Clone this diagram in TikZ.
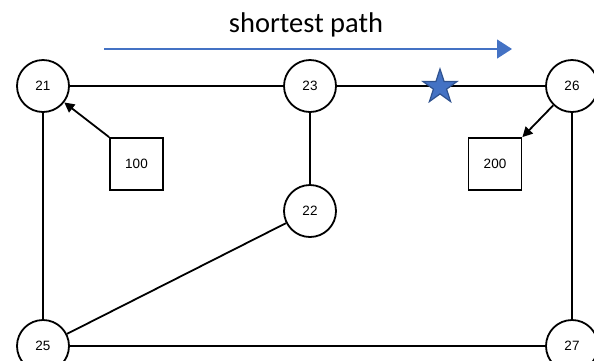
\documentclass[tikz,border=0pt]{standalone}
\usepackage{fontspec}
\setmainfont{Liberation Sans}
\newfontfamily\calib{Carlito}
\usetikzlibrary{shapes.geometric,arrows.meta}
\definecolor{pathblue}{HTML}{4472C4}
\definecolor{stardark}{HTML}{2F528F}
\begin{document}
\begin{tikzpicture}[x=1pt,y=-1pt,
  vnode/.style={circle,draw,line width=1.8pt,minimum size=52pt,inner sep=0pt,font=\fontsize{13.5}{15}\selectfont},
  bnode/.style={rectangle,draw,line width=1.8pt,minimum width=53pt,minimum height=52pt,inner sep=0pt,font=\fontsize{13.5}{15}\selectfont},
  edge/.style={line width=1.8pt},
  parr/.style={line width=1.8pt,-{Triangle[length=10pt,width=10pt]}}]
\clip (0,0) rectangle (594,360);
\useasboundingbox (0,0) rectangle (594,360);
\node[font=\calib\fontsize{28.5}{32}\selectfont] (title) at (306,25) {shortest path};
\coordinate (pa) at (104,49);
\coordinate (pb) at (512,49);
\draw[pathblue,line width=1.3pt,-{Triangle[length=15pt,width=19pt]}] (pa) -- (pb);
\node[vnode] (n21) at (43,86) {21};
\node[vnode] (n23) at (310,86) {23};
\node[vnode] (n26) at (572,86) {26};
\node[vnode] (n22) at (310,211) {22};
\node[vnode] (n25) at (43,346) {25};
\node[vnode] (n27) at (572,346) {27};
\node[bnode] (b100) at (136.5,164) {100};
\node[bnode] (b200) at (495,164) {200};
\draw[edge] (n21) -- (n23);
\draw[edge] (n23) -- (n26);
\draw[edge] (n23) -- (n22);
\draw[edge] (n21) -- (n25);
\draw[edge] (n26) -- (n27);
\draw[edge] (n25) -- (n27);
\draw[edge] (n22) -- (n25);
\draw[parr] (b100.north west) -- (n21);
\draw[parr] (n26) -- (b200.north east);
\node[star,star points=5,star point ratio=2.6,minimum size=36pt,inner sep=0pt,fill=pathblue,draw=stardark,line width=1.2pt] (star) at (440,87) {};
\end{tikzpicture}
\end{document}
